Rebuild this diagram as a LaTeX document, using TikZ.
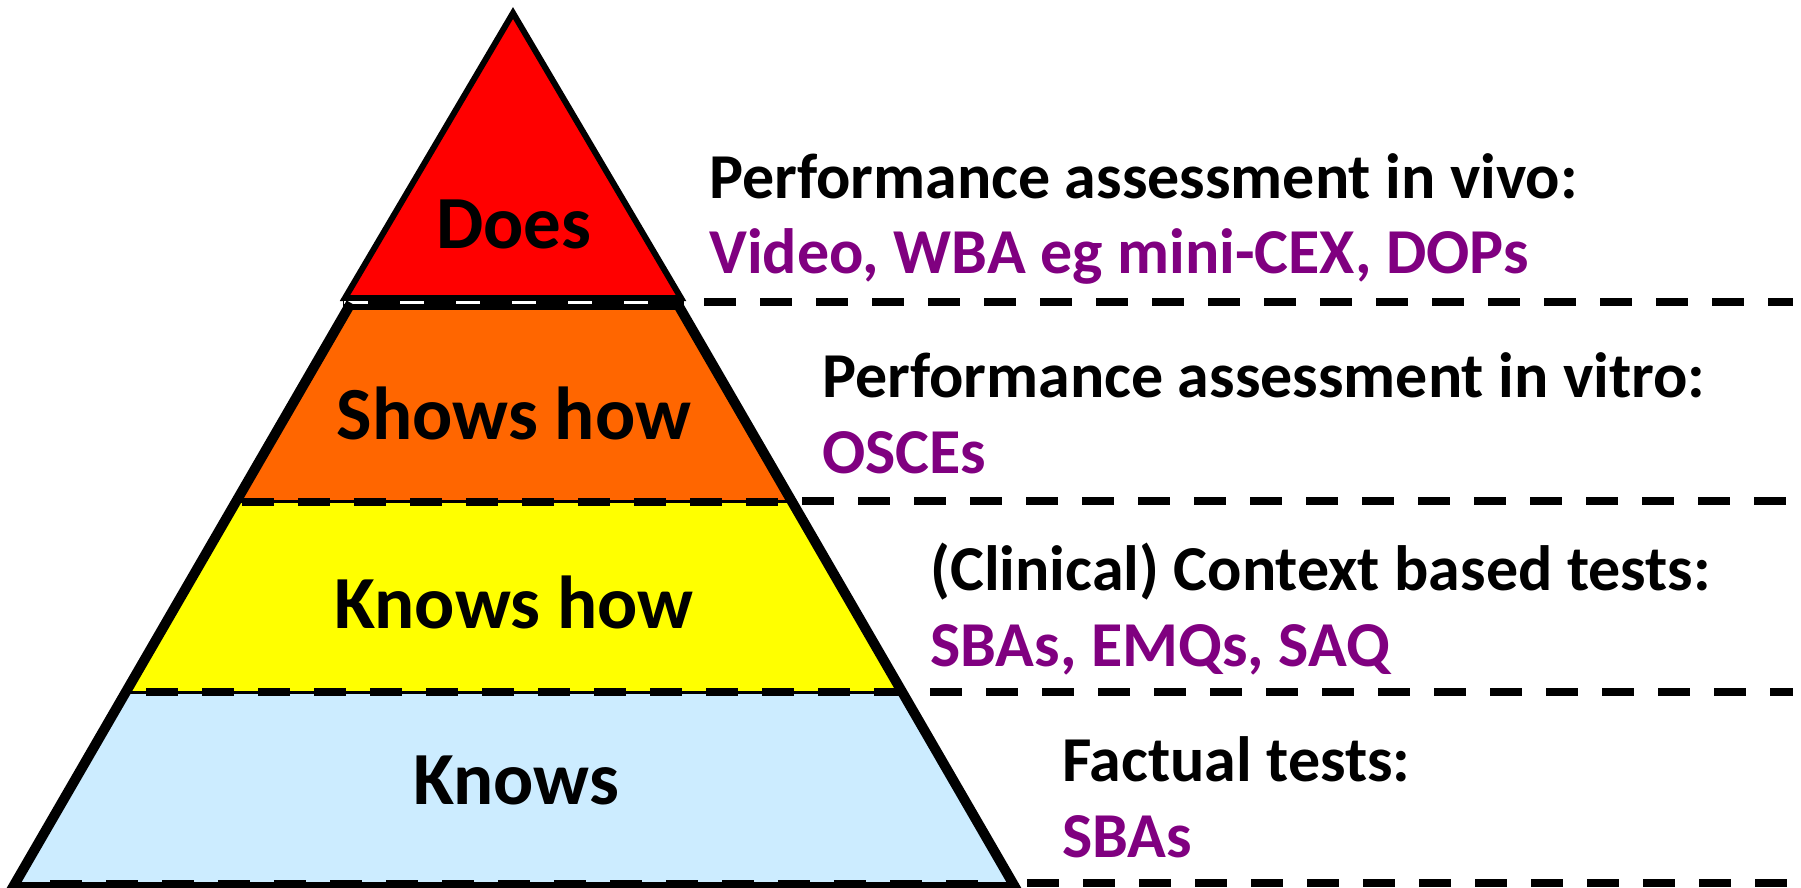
\documentclass[tikz,border=0pt]{standalone}
\usepackage{fontspec}
\setmainfont{Carlito}
\definecolor{lvlred}{RGB}{255,0,0}
\definecolor{lvlorange}{RGB}{255,102,0}
\definecolor{lvlyellow}{RGB}{255,255,0}
\definecolor{lvlblue}{RGB}{204,236,255}
\definecolor{methodpurple}{RGB}{128,0,128}
\begin{document}
\begin{tikzpicture}[x=1pt,y=-1pt,
  level/.style={font=\fontsize{75}{86}\selectfont\bfseries, inner sep=0pt, anchor=base},
  head/.style={font=\fontsize{64}{76}\selectfont\bfseries, inner sep=0pt, anchor=base west},
  methods/.style={head, text=methodpurple},
  sep/.style={line width=8pt, dash pattern=on 32pt off 24pt},
  outline/.style={line width=10pt, line join=miter}]
\useasboundingbox (0,0) rectangle (1801,887);

% corner points of the pyramid tiers
\coordinate (apex) at (513,13);
\coordinate (rl) at (345,298);
\coordinate (rr) at (681,298);
\coordinate (ol) at (351,303);
\coordinate (or) at (677,303);
\coordinate (yl) at (237,501);
\coordinate (yr) at (791,501);
\coordinate (bl) at (126,692);
\coordinate (br) at (902,692);
\coordinate (fl) at (13,887);
\coordinate (fr) at (1015,887);

% tier fills
\fill[lvlorange] (ol) -- (or) -- (yr) -- (yl) -- cycle;
\fill[lvlyellow] (yl) -- (yr) -- (br) -- (bl) -- cycle;
\fill[lvlblue] (bl) -- (br) -- (fr) -- (fl) -- cycle;
\draw[fill=lvlred, line width=6pt, line join=miter] (apex) -- (rr) -- (rl) -- cycle;

% boundary between top and second tier
\draw[line width=13pt] (343,303.5) -- (684,303.5);
\draw[white, line width=2.5pt, dash pattern=on 24pt off 32pt] (344,302.5) -- (650,302.5);

% boundaries inside the pyramid
\draw[line width=3pt] (yl) -- (yr);
\draw[sep] (242,501.5) -- (778,501.5);
\draw[line width=3pt] (bl) -- (br);
\draw[sep] (146,692) -- (900,692);
\draw[line width=6pt, dash pattern=on 32pt off 24pt] (50,883) -- (1000,883);

% outer sides and base
\draw[outline] (ol) -- (fl) -- (fr) -- (or);

% separators to the right
\draw[sep] (704,302) -- (1793,302);
\draw[sep] (802,501) -- (1793,501);
\draw[sep] (930,692) -- (1793,692);
\draw[sep] (1027,883) -- (1793,883);

% tier labels
\node[level] (does) at (514,248) {Does};
\node[level] (shows) at (514,439) {Shows how};
\node[level] (knowshow) at (514,628) {Knows how};
\node[level] (knows) at (516,804) {Knows};

% assessment methods
\node[head] (h1) at (709,198) {Performance assessment in vivo:};
\node[methods] (m1) at (709,273) {Video, WBA eg mini-CEX, DOPs};
\node[head] (h2) at (822,397) {Performance assessment in vitro:};
\node[methods] (m2) at (822,473) {OSCEs};
\node[head] (h3) at (930,590) {(Clinical) Context based tests:};
\node[methods] (m3) at (930,666) {SBAs, EMQs, SAQ};
\node[head] (h4) at (1062,781) {Factual tests:};
\node[methods] (m4) at (1062,857) {SBAs};
\end{tikzpicture}
\end{document}
